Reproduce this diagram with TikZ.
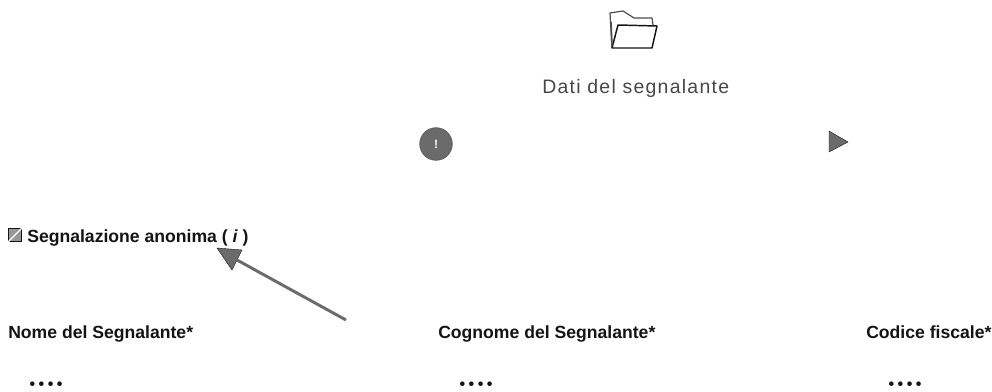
\documentclass[tikz,border=0pt]{standalone}
\usepackage{fontspec}
\usetikzlibrary{calc}
\setmainfont{Liberation Sans}
\newfontfamily\headfont[LetterSpace=6.5]{Liberation Sans}
\newfontfamily\dotfont[LetterSpace=22]{Liberation Sans}
\definecolor{inkd}{gray}{0.08}
\definecolor{inkm}{gray}{0.42}
\tikzset{
  x=0.75pt,y=-0.75pt,
  flabel/.style={inner sep=0pt,anchor=base west,font=\fontsize{13.2pt}{15pt}\selectfont\bfseries,text=inkd},
  stars/.style={inner sep=0pt,anchor=center,font=\dotfont\fontsize{12pt}{13pt}\selectfont\bfseries,text=inkd},
  heading/.style={inner sep=0pt,anchor=base west,font=\headfont\fontsize{14.6pt}{16pt}\selectfont,text=black!72},
  iconline/.style={draw=inkd,line width=0.8pt,line join=round},
}
\begin{document}
\begin{tikzpicture}
\useasboundingbox[fill=white] (0,0) rectangle (992,392);
% folder icon
\draw[iconline,line width=0.9pt,draw=black!70] (612,48) -- (610,13) -- (623,11) -- (634,18) -- (652,18) -- (653,25);
\draw[iconline,line width=1.1pt] (612,48) -- (618,25) -- (657,26) -- (652,48) -- cycle;
\draw[iconline,line width=1.2pt,draw=black!70] (611,22) -- (612,46);
\node[heading] (title) at (542,94) {Dati del segnalante};
% round info icon
\node[circle,fill=inkm,draw=inkm!80!black,minimum size=24.5pt,inner sep=0pt] (info) at (436,144) {};
\node[inner sep=0pt,font=\fontsize{9pt}{9pt}\selectfont\bfseries,text=white] (infoi) at (436,144) {!};
% right triangle
\fill[inkm,draw=inkd,line width=0.3pt] (829,131) -- (848,142) -- (829,152) -- cycle;
% checkbox
\node[draw=inkd,fill=inkm!70,line width=0.8pt,minimum size=9.5pt,inner sep=0pt] (check) at (15,235) {};
\draw[white,line width=1pt] (check.south west) -- (check.north east);
\node[flabel] (anon) at (27,242) {Segnalazione anonima ( \textit{i} )};
% arrow
\coordinate (arrowstart) at (346,320);
\coordinate (arrowtip) at (217,249);
\fill[inkm,draw=inkd,line width=0.3pt] (217,248) -- (242,250) -- (232,270) -- cycle;
\draw[inkm,line width=2.2pt] (arrowstart) -- ($(arrowtip)!0.12!(arrowstart)$);
% labels
\node[flabel] (nome) at (8,338) {Nome del Segnalante*};
\node[flabel] (cognome) at (438,338) {Cognome del Segnalante*};
\node[flabel] (codice) at (866,338) {Codice fiscale*};
% masked values
\node[stars] (v1) at (46,386) {••••};
\node[stars] (v2) at (476,386) {••••};
\node[stars] (v3) at (905,386) {••••};
\end{tikzpicture}
\end{document}
